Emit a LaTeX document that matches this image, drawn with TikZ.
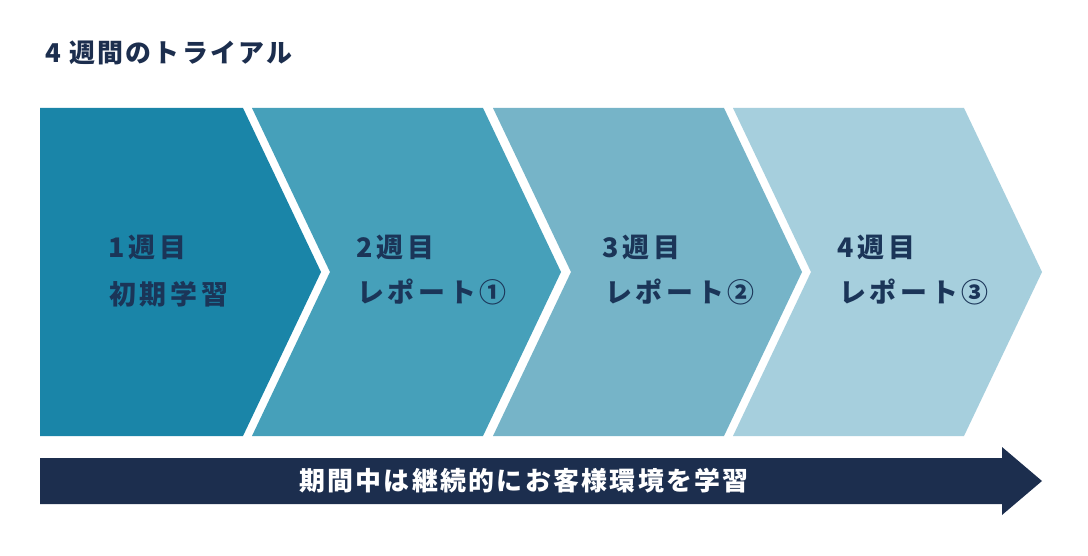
\documentclass[tikz,border=0pt]{standalone}
\usepackage{fontspec}
\newfontfamily\jp{Noto Sans CJK JP}[LetterSpace=9]
\newfontfamily\jpwide{Noto Sans CJK JP}[LetterSpace=14]
\definecolor{navy}{HTML}{1C2E4E}
\definecolor{labelc}{HTML}{1B3558}
\definecolor{cA}{HTML}{1A85A8}
\definecolor{cB}{HTML}{46A0BA}
\definecolor{cC}{HTML}{76B4C8}
\definecolor{cD}{HTML}{A6CFDD}
\tikzset{
  lbl/.style={anchor=west, inner sep=0pt, text=labelc, font=\jpwide\bfseries\fontsize{27}{32}\selectfont, align=left},
  ttl/.style={anchor=west, inner sep=0pt, text=navy, font=\jp\bfseries\fontsize{26}{30}\selectfont},
  bar/.style={inner sep=0pt, text=white, font=\jp\bfseries\fontsize{26}{30}\selectfont}
}
\begin{document}
\begin{tikzpicture}[x=1bp,y=-1bp]
\useasboundingbox (0,0) rectangle (1088,556);
\fill[white] (0,0) rectangle (1088,556);
% chevrons
\fill[cA] (40,108) -- (243,108) -- (321,272) -- (243,436) -- (40,436) -- cycle;
\fill[cB] (252,108) -- (483,108) -- (561,272) -- (483,436) -- (252,436) -- (330,272) -- cycle;
\fill[cC] (493,108) -- (724,108) -- (802,272) -- (724,436) -- (493,436) -- (571,272) -- cycle;
\fill[cD] (733,108) -- (964,108) -- (1042,272) -- (964,436) -- (733,436) -- (811,272) -- cycle;
% bottom arrow
\fill[navy] (40,458) -- (1002,458) -- (1002,447) -- (1042,481) -- (1002,515) -- (1002,504) -- (40,504) -- cycle;
% texts
\node[ttl] (title) at (45,53) {4 週間のトライアル};
\node[lbl] (w1) at (108,247) {1週目};
\node[lbl] (t1) at (109,294) {初期学習};
\node[lbl] (w2) at (356,247) {2週目};
\node[lbl] (t2) at (357,292) {レポート①};
\node[lbl] (w3) at (602,247) {3週目};
\node[lbl] (t3) at (605,292) {レポート②};
\node[lbl] (w4) at (837,247) {4週目};
\node[lbl] (t4) at (839,292) {レポート③};
\node[bar] (bartext) at (524,481) {期間中は継続的にお客様環境を学習};
\end{tikzpicture}
\end{document}
